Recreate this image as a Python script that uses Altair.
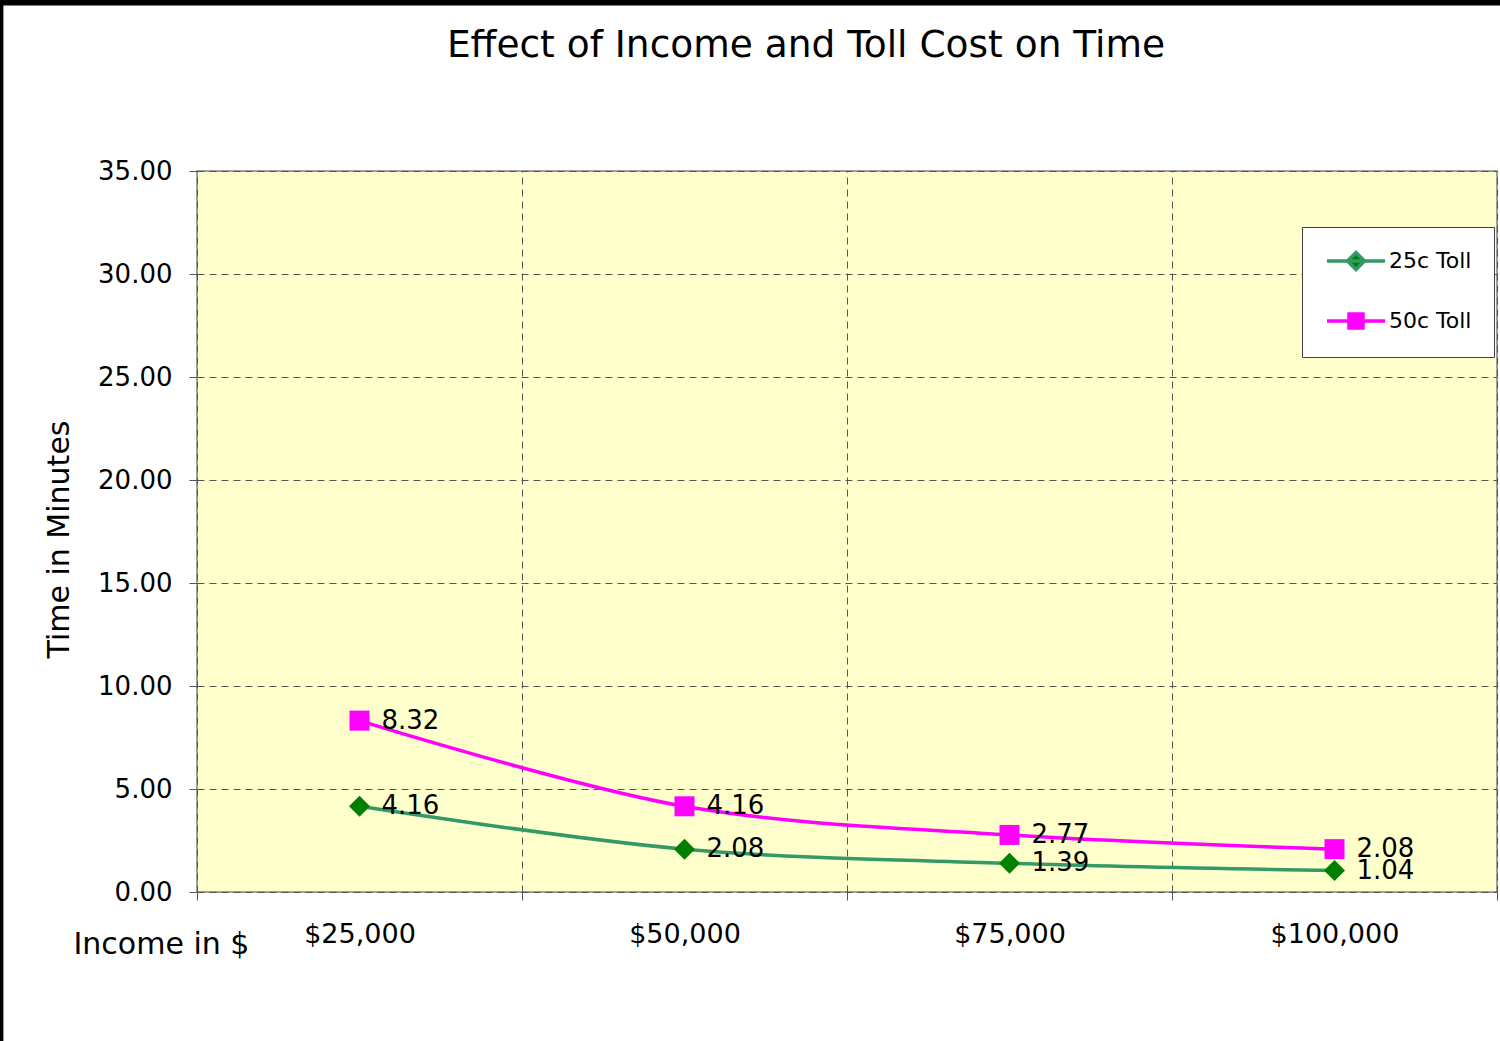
import altair as alt
import pandas as pd

# ---- data ----
incomes = ["$25,000", "$50,000", "$75,000", "$100,000"]
series_names = ["25c Toll", "50c Toll"]
toll_25 = [4.16, 2.08, 1.39, 1.04]
toll_50 = [8.32, 4.16, 2.77, 2.08]
y_ticks = [0, 5, 10, 15, 20, 25, 30, 35]

# ---- styles ----
F = "DejaVu Sans"
line_colors = ["#339966", "#FF00FF"]
marker_colors = ["#008000", "#FF00FF"]
legend_paths = [
    "M-0.9,0H4.9M2,-0.85L2.85,0L2,0.85L1.15,0Z",
    "M-0.9,0H4.9M1.3,-0.7H2.7V0.7H1.3Z",
]
grid_col = "#555555"

rows = []
for i, inc in enumerate(incomes):
    rows.append({"income": inc, "pos": i + 0.5, "series": series_names[0], "time": toll_25[i]})
    rows.append({"income": inc, "pos": i + 0.5, "series": series_names[1], "time": toll_50[i]})
df = pd.DataFrame(rows)
bounds = pd.DataFrame({"b": list(range(len(incomes) + 1))})

x_scale = alt.Scale(domain=[0, len(incomes)], nice=False, zero=False)
y_scale = alt.Scale(domain=[0, 35], nice=False)

label_expr = "[" + ",".join("'%s'" % s for s in incomes) + "][floor(datum.value)]"
x_axis = alt.Axis(
    orient="bottom", values=[i + 0.5 for i in range(len(incomes))], labelExpr=label_expr,
    ticks=False, grid=False, domain=False, labelFontSize=27, labelPadding=29,
    labelColor="black", labelFont=F,
    title="Income in $", titleFontSize=30, titleFontWeight="normal", titleFont=F,
    titleColor="black", titleX=-124, titleY=52, titleAlign="left", titleBaseline="middle",
    titleAngle=0,
)
grid_axis = alt.Axis(
    orient="bottom", values=list(range(len(incomes) + 1)), grid=True, gridDash=[7, 5],
    gridColor=grid_col, gridWidth=1, ticks=True, tickSize=8, tickColor=grid_col,
    labels=False, domain=False, title=None,
)
y_axis = alt.Axis(
    values=y_ticks, format=".2f", grid=True, gridDash=[7, 5], gridColor=grid_col,
    gridWidth=1, tickSize=8, tickColor=grid_col, labelFontSize=26, labelPadding=17,
    labelColor="black", labelFont=F, domain=False,
    title="Time in Minutes", titleFontSize=30, titleFontWeight="normal", titleFont=F,
    titleColor="black", titleX=-129, titleY=368, titleAngle=-90, titleAlign="center",
    titleBaseline="alphabetic",
)

leg = alt.Legend(
    title=None, orient="none", legendX=1105, legendY=56, fillColor="white",
    strokeColor="#404040", padding=22, labelFontSize=22, labelFont=F,
    labelColor="black", labelOffset=41, rowPadding=30, symbolSize=400,
    symbolStrokeWidth=3.5, symbolOpacity=1,
)

grid_layer = alt.Chart(bounds).mark_point(opacity=0).encode(
    x=alt.X("b:Q", scale=x_scale, axis=grid_axis)
)

lines = alt.Chart(df).mark_line(interpolate="catmull-rom", strokeWidth=3.5).encode(
    x=alt.X("pos:Q", scale=x_scale, axis=x_axis),
    y=alt.Y("time:Q", scale=y_scale, axis=y_axis),
    stroke=alt.Stroke("series:N", scale=alt.Scale(domain=series_names, range=line_colors), legend=leg),
)

pts = []
for name, shp, sz, col in zip(series_names, ["diamond", "square"], [441, 400], marker_colors):
    pts.append(
        alt.Chart(df).transform_filter(alt.datum.series == name)
        .mark_point(filled=True, shape=shp, size=sz, color=col, opacity=1)
        .encode(
            x=alt.X("pos:Q", scale=x_scale, axis=None),
            y=alt.Y("time:Q", scale=y_scale),
        )
    )

texts = alt.Chart(df).mark_text(
    align="left", baseline="middle", dx=22, fontSize=26, font=F, color="black"
).encode(
    x=alt.X("pos:Q", scale=x_scale, axis=None),
    y=alt.Y("time:Q", scale=y_scale),
    text=alt.Text("time:Q", format=".2f"),
)

legend_layer = alt.Chart(df).transform_filter("false").mark_point(filled=True).encode(
    x=alt.X("pos:Q", scale=x_scale, axis=None),
    y=alt.Y("time:Q", scale=y_scale),
    shape=alt.Shape("series:N", scale=alt.Scale(domain=series_names, range=legend_paths), legend=leg),
    fill=alt.Fill("series:N", scale=alt.Scale(domain=series_names, range=marker_colors), legend=leg),
    stroke=alt.Stroke("series:N", scale=alt.Scale(domain=series_names, range=line_colors), legend=leg),
)

one = alt.Data(values=[{"k": 0}])
top_bar = alt.Chart(one).mark_rule(color="black", strokeWidth=5.6).encode(
    x=alt.value(-197), x2=alt.value(1303), y=alt.value(-168.2)
)
left_bar = alt.Chart(one).mark_rule(color="black", strokeWidth=3.4).encode(
    x=alt.value(-195.3), y=alt.value(-171), y2=alt.value(870)
)

chart = alt.layer(
    grid_layer, lines, *pts, texts, legend_layer, top_bar, left_bar
).resolve_axis(x="independent").properties(
    width=1300, height=721,
    autosize=alt.AutoSizeParams(type="none"),
    padding={"left": 197, "top": 171, "right": 3, "bottom": 149},
    background="white",
    title=alt.TitleParams(
        "Effect of Income and Toll Cost on Time", fontSize=37.5, fontWeight="normal",
        font=F, color="black", anchor="middle", dx=-41, offset=-66,
    ),
).configure_view(fill="#FFFFCC", stroke="#808080", strokeWidth=1.5)

chart.save("out.html", embed_options={"renderer": "svg", "actions": False})
